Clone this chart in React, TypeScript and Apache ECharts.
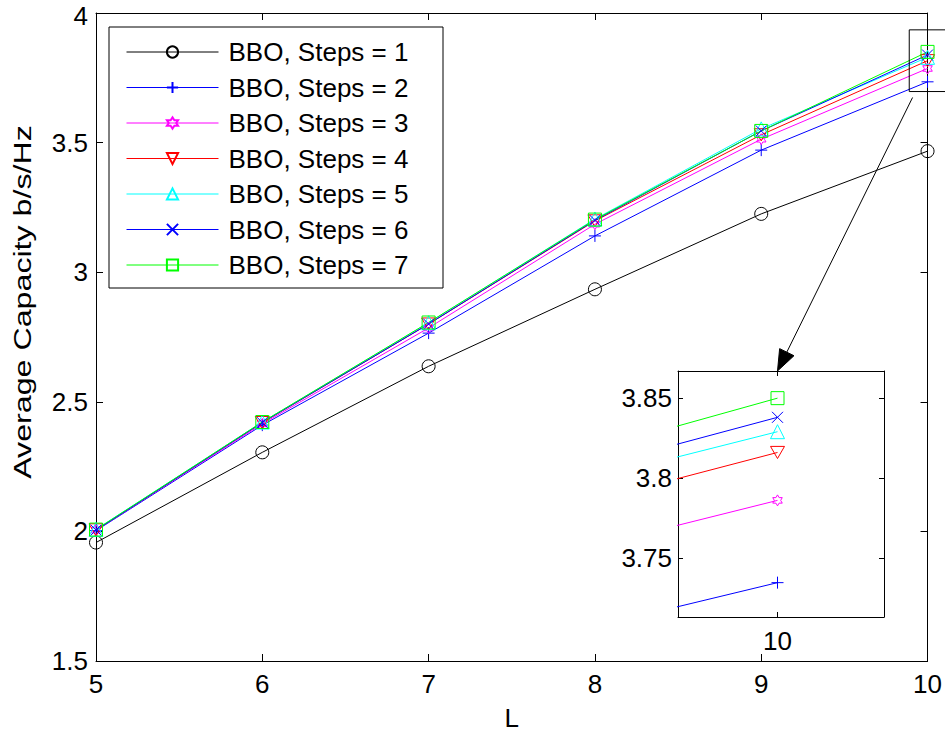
import React, { useEffect, useRef } from "react";
import * as echarts from "echarts";

const L = [5, 6, 7, 8, 9, 10];
const seriesNames = [
  "BBO, Steps = 1",
  "BBO, Steps = 2",
  "BBO, Steps = 3",
  "BBO, Steps = 4",
  "BBO, Steps = 5",
  "BBO, Steps = 6",
  "BBO, Steps = 7",
];
const steps1 = [1.957, 2.305, 2.637, 2.934, 3.225, 3.467];
const steps2 = [2.003, 2.41, 2.765, 3.14, 3.471, 3.7345];
const steps3 = [2.005, 2.415, 2.785, 3.185, 3.513, 3.786];
const steps4 = [2.006, 2.42, 2.8, 3.198, 3.53, 3.816];
const steps5 = [2.008, 2.422, 2.805, 3.205, 3.553, 3.829];
const steps6 = [2.005, 2.42, 2.8, 3.2, 3.545, 3.838];
const steps7 = [2.007, 2.422, 2.806, 3.203, 3.545, 3.85];
const seriesValues = [steps1, steps2, steps3, steps4, steps5, steps6, steps7];
const seriesColors = ["#000000", "#0000ff", "#ff00ff", "#ff0000", "#00ffff", "#0000ff", "#00ff00"];

const xRange = [5, 10];
const yRange = [1.5, 4];
const insetXRange = [9.943, 10.061];
const insetYRange = [3.713, 3.867];
const insetXTicks = [10];
const insetYTicks = [3.75, 3.8, 3.85];
const zoomBox = { x: [9.89, 10.12], y: [3.697, 3.935] };
const arrowFrom = [9.91, 3.674];

const HEXAGRAM =
  "path://M50,0 L64.43,25 L93.3,25 L78.87,50 L93.3,75 L64.43,75 L50,100 L35.57,75 L6.7,75 L21.13,50 L6.7,25 L35.57,25 Z";
const symbols = [
  { symbol: "circle", size: 13 },
  { symbol: "path://M0,5 L10,5 M5,0 L5,10", size: 12 },
  { symbol: HEXAGRAM, size: 11 },
  { symbol: "path://M0,0 L10,0 L5,8.66 Z", size: 14 },
  { symbol: "triangle", size: 14 },
  { symbol: "path://M0,0 L10,10 M10,0 L0,10", size: 11 },
  { symbol: "rect", size: 13 },
];

const FONT = "Liberation Sans, Arial, sans-serif";
const FS = 26;

export default function App() {
  const ref = useRef<HTMLDivElement>(null);
  useEffect(() => {
    if (!ref.current) return;
    const chart = echarts.init(ref.current, null, { renderer: "svg" });

    const axisLine = { show: true, onZero: false, lineStyle: { color: "#000", width: 1 } };
    const label = { color: "#000", fontSize: FS, fontFamily: FONT };

    const mkSeries = (idx: number, inset: boolean) => ({
      type: "line",
      name: seriesNames[idx],
      data: L.map((x, i) => [x, seriesValues[idx][i]]),
      xAxisIndex: inset ? 2 : 0,
      yAxisIndex: inset ? 2 : 0,
      symbol: symbols[idx].symbol,
      symbolSize: symbols[idx].size,
      symbolKeepAspect: true,
      showAllSymbol: true,
      clip: inset,
      lineStyle: { color: seriesColors[idx], width: 1 },
      itemStyle: { color: "rgba(0,0,0,0)", borderColor: seriesColors[idx], borderWidth: 1 },
      emphasis: { disabled: true },
      z: 3,
    });

    const series: any[] = [];
    for (let i = 0; i < seriesNames.length; i++) series.push(mkSeries(i, false));
    for (let i = 0; i < seriesNames.length; i++) series.push(mkSeries(i, true));

    const option: any = {
      animation: false,
      backgroundColor: "#fff",
      textStyle: { fontFamily: FONT },
      grid: [
        { left: 96, top: 13, width: 832, height: 652 },
        { left: 678, top: 371, width: 206, height: 246 },
      ],
      xAxis: [
        {
          type: "value", gridIndex: 0, min: xRange[0], max: xRange[1], interval: 1,
          position: "bottom", axisLine, splitLine: { show: false },
          axisTick: { inside: true, length: 7, lineStyle: { color: "#000" } },
          axisLabel: { ...label, margin: 10 },
          name: "L", nameLocation: "middle", nameGap: 44,
          nameTextStyle: { color: "#000", fontSize: FS, fontFamily: FONT },
        },
        {
          type: "value", gridIndex: 0, min: xRange[0], max: xRange[1], interval: 1,
          position: "top", axisLine, splitLine: { show: false },
          axisTick: { inside: true, length: 7, lineStyle: { color: "#000" } },
          axisLabel: { show: false },
        },
        {
          type: "value", gridIndex: 1, min: insetXRange[0], max: insetXRange[1],
          position: "bottom", axisLine, splitLine: { show: false },
          axisTick: { inside: true, length: 5, customValues: insetXTicks, lineStyle: { color: "#000" } },
          axisLabel: { ...label, margin: 11, customValues: insetXTicks },
        },
        {
          type: "value", gridIndex: 1, min: insetXRange[0], max: insetXRange[1],
          position: "top", axisLine, splitLine: { show: false },
          axisTick: { inside: true, length: 5, customValues: insetXTicks, lineStyle: { color: "#000" } },
          axisLabel: { show: false },
        },
      ],
      yAxis: [
        {
          type: "value", gridIndex: 0, min: yRange[0], max: yRange[1], interval: 0.5,
          position: "left", axisLine, splitLine: { show: false },
          axisTick: { inside: true, length: 7, lineStyle: { color: "#000" } },
          axisLabel: {
            ...label, margin: 8,
            formatter: (v: number) => (v === yRange[1] ? `{t|${v}}` : String(v)),
            rich: { t: { color: "#000", fontSize: FS, fontFamily: FONT, padding: [5, 0, 0, 0] } },
          },
        },
        {
          type: "value", gridIndex: 0, min: yRange[0], max: yRange[1], interval: 0.5,
          position: "right", axisLine, splitLine: { show: false },
          axisTick: { inside: true, length: 7, lineStyle: { color: "#000" } },
          axisLabel: { show: false },
        },
        {
          type: "value", gridIndex: 1, min: insetYRange[0], max: insetYRange[1],
          position: "left", axisLine, splitLine: { show: false },
          axisTick: { inside: true, length: 5, customValues: insetYTicks, lineStyle: { color: "#000" } },
          axisLabel: { ...label, margin: 6, customValues: insetYTicks, formatter: (v: number) => String(+v.toFixed(2)) },
        },
        {
          type: "value", gridIndex: 1, min: insetYRange[0], max: insetYRange[1],
          position: "right", axisLine, splitLine: { show: false },
          axisTick: { inside: true, length: 5, customValues: insetYTicks, lineStyle: { color: "#000" } },
          axisLabel: { show: false },
        },
      ],
      legend: {
        data: seriesNames,
        orient: "vertical",
        left: 126,
        top: 39,
        itemWidth: 92,
        itemHeight: 14,
        itemGap: 9.5,
        padding: 0,
        z: 10,
        selectedMode: false,
        lineStyle: { width: 1 },
        textStyle: { color: "#000", fontSize: FS, fontFamily: FONT, padding: [0, 0, 0, 5] },
      },
      series,
    };
    chart.setOption(option);

    const p = (gi: number, v: number[]) => chart.convertToPixel({ gridIndex: gi }, v) as number[];
    const b0 = p(0, [zoomBox.x[0], zoomBox.y[1]]);
    const b1 = p(0, [zoomBox.x[1], zoomBox.y[0]]);
    const a0 = p(0, arrowFrom);
    const a1 = p(1, [insetXTicks[0], insetYRange[1]]);
    const dx = a1[0] - a0[0];
    const dy = a1[1] - a0[1];
    const len = Math.hypot(dx, dy);
    const ux = dx / len, uy = dy / len;
    const headL = 21, headW = 8;
    const base = [a1[0] - ux * headL, a1[1] - uy * headL];
    const head = [
      [a1[0], a1[1]],
      [base[0] - uy * headW, base[1] + ux * headW],
      [base[0] + uy * headW, base[1] - ux * headW],
    ];

    chart.setOption({
      graphic: [
        {
          type: "rect", z: 8,
          shape: { x: 109, y: 27, width: 334, height: 261 },
          style: { fill: "#fff", stroke: "#000", lineWidth: 1 },
        },
        {
          type: "rect", z: 8,
          shape: { x: b0[0], y: b0[1], width: b1[0] - b0[0], height: b1[1] - b0[1] },
          style: { fill: "none", stroke: "#000", lineWidth: 1 },
        },
        {
          type: "line", z: 8,
          shape: { x1: a0[0], y1: a0[1], x2: base[0], y2: base[1] },
          style: { stroke: "#000", lineWidth: 1 },
        },
        {
          type: "polygon", z: 8,
          shape: { points: head },
          style: { fill: "#000", stroke: "#000" },
        },
        {
          type: "text", z: 8,
          x: 23, y: 302, rotation: Math.PI / 2, scaleX: 1.4,
          style: {
            text: "Average Capacity b/s/Hz", fill: "#000", fontSize: 23, fontFamily: FONT,
            align: "center", verticalAlign: "middle",
          },
        },
      ],
    });

    return () => chart.dispose();
  }, []);
  return <div ref={ref} style={{ position: "fixed", left: 0, top: 0, width: 945, height: 736 }} />;
}
